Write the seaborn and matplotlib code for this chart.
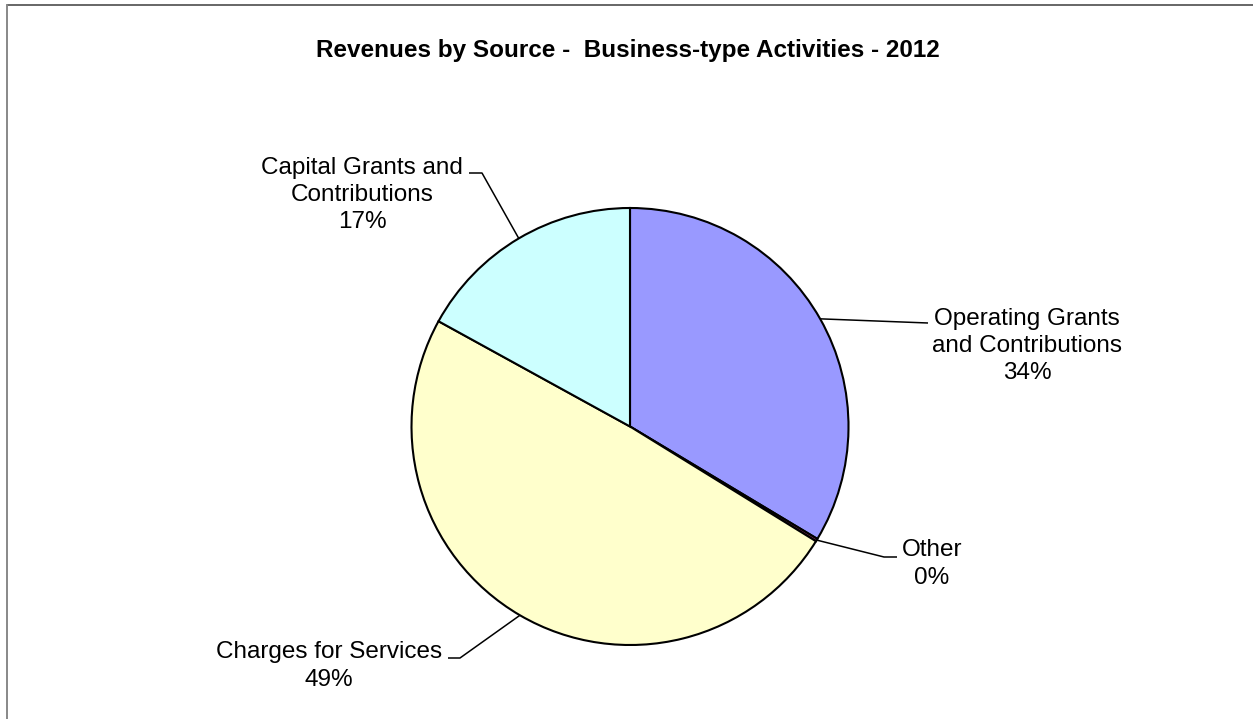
import numpy as np
import matplotlib
matplotlib.use("Agg")
import matplotlib.pyplot as plt
import seaborn as sns

# Revenue shares (percent of total), clockwise from 12 o'clock
categories = ["Operating Grants\nand Contributions", "Other",
              "Charges for Services", "Capital Grants and\nContributions"]
shares = [33.6, 0.2, 49.2, 17.0]
colors = ["#9999FF", "#993366", "#FFFFCC", "#CCFFFF"]
title = "Revenues by Source -  Business-type Activities - 2012"

sns.set_theme(style="white")
plt.rcParams["font.family"] = ["Liberation Sans", "DejaVu Sans"]

W, H = 1253, 719
fig = plt.figure(figsize=(W / 100, H / 100), dpi=100)
ax = fig.add_axes([0, 0, 1, 1])
ax.set_xlim(0, W)
ax.set_ylim(0, H)
ax.set_aspect("equal")
ax.axis("off")


def fy(py):
    """Convert a top-down pixel row to the upward data axis."""
    return H - py


center = (630, fy(426.5))
radius = 218.5
wedges, _ = ax.pie(shares, colors=colors, startangle=90, counterclock=False,
                   center=center, radius=radius,
                   wedgeprops=dict(edgecolor="black", linewidth=1.5))
ax.set_xlim(0, W)
ax.set_ylim(0, H)

# label text centre and leader path (elbow / stub end) for each wedge
label_pos = [(1027, 346), (932, 564), (329, 666), (362, 195)]
leader_path = [
    [(928, 323)],
    [(884, 557), (897, 557)],
    [(460, 658), (448, 658)],
    [(482, 173), (469, 173)],
]

total = sum(shares)
for w, cat, val, (tx, ty), path in zip(wedges, categories, shares,
                                         label_pos, leader_path):
    mid = np.deg2rad((w.theta1 + w.theta2) / 2)
    sx = center[0] + radius * np.cos(mid)
    sy = center[1] + radius * np.sin(mid)
    xs = [sx] + [p[0] for p in path]
    ys = [sy] + [fy(p[1]) for p in path]
    ax.plot(xs, ys, color="black", lw=1.1, solid_capstyle="butt", zorder=3)
    pct = f"{val / total * 100:.0f}%"
    ax.text(tx, fy(ty), f"{cat}\n{pct}", ha="center", va="center",
            fontsize=17.5, color="black", linespacing=1.32)

ax.text(628, fy(57), title, ha="center", va="baseline",
        fontsize=17.5, fontweight="bold", color="black")

# chart frame (top and left edges fall inside the canvas)
ax.plot([7, W + 5], [fy(5), fy(5)], color="#666666", lw=1.4, zorder=4)
ax.plot([7, 7], [fy(5), fy(H + 5)], color="#888888", lw=1.4, zorder=4)

fig.savefig("out.png", dpi=100, facecolor="white")
